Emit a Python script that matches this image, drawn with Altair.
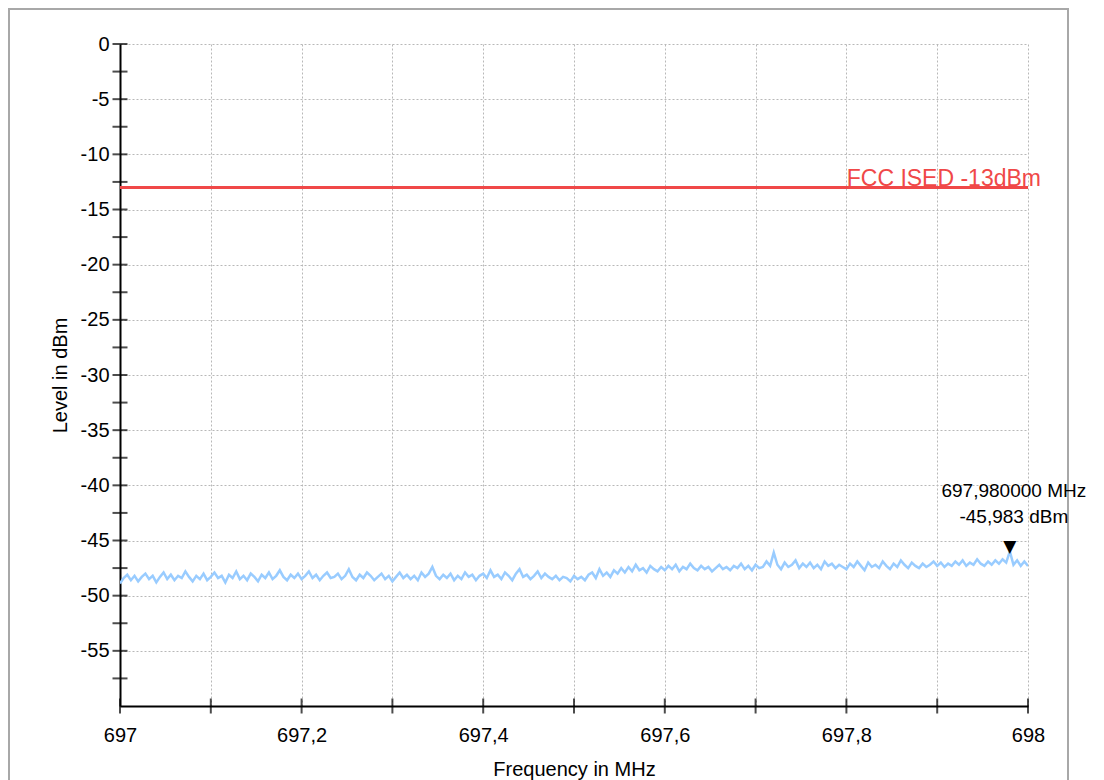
import altair as alt
import pandas as pd

# ---- data -------------------------------------------------------------
F_START = 697.0
F_STEP = 0.004
LEVELS = [
    -48.9, -48.4, -48.1, -48.6, -48.2, -48.7, -48.3, -48.0, -48.5, -48.2,
    -48.8, -48.3, -47.9, -48.5, -48.1, -48.6, -48.2, -48.4, -47.8, -48.3,
    -48.7, -48.2, -48.5, -48.0, -48.6, -48.3, -47.9, -48.4, -48.2, -48.8,
    -48.1, -48.4, -47.8, -48.5, -48.2, -48.6, -48.0, -48.3, -48.7, -48.1,
    -48.4, -47.9, -48.5, -48.2, -47.7, -48.3, -48.6, -48.1, -48.4, -48.0,
    -48.5, -48.2, -47.8, -48.4, -48.1, -48.6, -48.2, -47.9, -48.4, -48.3,
    -48.0, -48.5, -48.2, -47.6, -48.3, -48.6, -48.1, -48.4, -47.9, -48.2,
    -48.6, -48.3, -48.0, -48.5, -48.2, -48.7, -48.3, -47.9, -48.4, -48.1,
    -48.5, -48.2, -48.6, -47.9, -48.3, -48.0, -47.4, -48.2, -48.5, -48.1,
    -48.4, -48.0, -48.6, -48.2, -48.5, -47.9, -48.3, -48.1, -48.6, -48.2,
    -48.0, -48.4, -47.7, -48.3, -48.1, -48.5, -47.9, -48.2, -48.6, -48.0,
    -47.6, -48.3, -48.1, -48.5, -48.2, -47.8, -48.4, -48.0, -48.3, -48.5,
    -48.2, -48.6, -48.3, -48.4, -48.7, -48.2, -48.5, -48.3, -48.6, -48.1,
    -47.9, -48.4, -47.6, -48.2, -47.9, -48.3, -47.7, -48.0, -47.5, -47.9,
    -47.4, -47.8, -47.2, -47.7, -47.5, -47.9, -47.3, -47.6, -47.8, -47.4,
    -47.7, -47.3, -47.6, -47.2, -47.8, -47.4, -47.6, -47.1, -47.5, -47.7,
    -47.3, -47.6, -47.4, -47.8, -47.5, -47.2, -47.6, -47.4, -47.7, -47.3,
    -47.5, -47.1, -47.6, -47.3, -47.7, -47.2, -47.5, -47.4, -46.9, -47.3,
    -46.1, -47.2, -47.6, -47.0, -47.4, -47.2, -46.8, -47.5, -47.1, -47.4,
    -47.0, -47.5, -47.2, -47.6, -46.9, -47.3, -47.1, -47.5, -47.2, -47.4,
    -47.6, -47.1, -47.4, -46.9, -47.3, -47.7, -47.0, -47.4, -47.2, -47.5,
    -46.9, -47.3, -47.6, -47.1, -47.4, -46.8, -47.2, -47.5, -47.0, -47.3,
    -47.5, -47.1, -47.4, -47.2, -46.9, -47.3, -47.0, -47.4, -47.1, -47.3,
    -46.9, -47.2, -46.8, -47.3, -47.0, -47.2, -46.7, -47.1, -47.3, -46.9,
    -47.2, -46.8, -47.1, -46.7, -47.0, -45.983, -47.2, -46.8, -47.3, -46.9,
    -47.3,
]
FREQS = [round(F_START + i * F_STEP, 3) for i in range(len(LEVELS))]

LIMIT_DB = -13
LIMIT_LABEL = "FCC ISED -13dBm"
MARKER_F = 697.98
MARKER_DB = -45.983

Y_VALUES = [-2.5 * k for k in range(0, 25)]          # 0 .. -60
Y_TICKS = Y_VALUES[:-1]                                # 0 .. -57.5
X_TICKS = [round(697 + 0.1 * k, 1) for k in range(0, 11)]

FONT = "Liberation Sans"
RED = "#f04848"
BLUE = "#99ccff"

trace = pd.DataFrame({"f": FREQS, "db": LEVELS})
limit = pd.DataFrame({"f": [697.0], "f2": [698.0], "db": [LIMIT_DB], "label": [LIMIT_LABEL]})
marker = pd.DataFrame({
    "f": [MARKER_F], "db": [MARKER_DB],
    "l1": [f"{MARKER_F:.6f}".replace(".", ",") + " MHz"],
    "l2": [f"{MARKER_DB:.3f}".replace(".", ",") + " dBm"],
})
yt = pd.DataFrame({"f": [697.0] * len(Y_TICKS), "db": Y_TICKS})
xt = pd.DataFrame({"f": X_TICKS, "db": [-60.0] * len(X_TICKS)})

xscale = alt.Scale(domain=[697, 698], nice=False, zero=False)
yscale = alt.Scale(domain=[-60, 0], nice=False, zero=False)

xaxis = alt.Axis(
    title="Frequency in MHz", values=X_TICKS, ticks=False, labelFlush=False,
    labelExpr="round(datum.value*10) % 2 == 0 ? replace(toString(round(datum.value*10)/10), '.', ',') : ''",
    labelPadding=19, titlePadding=14,
)
yaxis = alt.Axis(
    title="Level in dBm", values=Y_VALUES, ticks=False,
    labelExpr="(datum.value % 5 == 0 && datum.value > -59) ? toString(datum.value) : ''",
    labelPadding=11, titlePadding=10,
)

base = alt.Chart(trace)

line = base.mark_line(color=BLUE, strokeWidth=2.5, clip=True).encode(
    x=alt.X("f:Q", scale=xscale, axis=xaxis),
    y=alt.Y("db:Q", scale=yscale, axis=yaxis),
)

limit_rule = alt.Chart(limit).mark_rule(color=RED, strokeWidth=3).encode(
    x="f:Q", x2="f2:Q", y="db:Q"
)
limit_text = alt.Chart(limit).mark_text(
    color=RED, font=FONT, fontSize=23, align="right", baseline="alphabetic", dx=13, dy=-1
).encode(x="f2:Q", y="db:Q", text="label:N")

tri = alt.Chart(marker).mark_text(
    text="▼", font="DejaVu Sans", fontSize=17, color="black", baseline="alphabetic", dy=1
).encode(x="f:Q", y="db:Q")
m1 = alt.Chart(marker).mark_text(
    font=FONT, fontSize=19, color="black", align="center", baseline="middle", dx=4, dy=-60
).encode(x="f:Q", y="db:Q", text="l1:N")
m2 = alt.Chart(marker).mark_text(
    font=FONT, fontSize=19, color="black", align="center", baseline="middle", dx=4, dy=-34
).encode(x="f:Q", y="db:Q", text="l2:N")

ytick_marks = alt.Chart(yt).mark_tick(
    orient="horizontal", size=15, thickness=2, color="black"
).encode(x="f:Q", y="db:Q")
xtick_marks = alt.Chart(xt).mark_tick(
    orient="vertical", size=15, thickness=2, color="black"
).encode(x="f:Q", y="db:Q")

frame = alt.Chart(limit).mark_rect(
    filled=False, stroke="#a8a8a8", strokeWidth=2
).encode(
    x=alt.value(-111), x2=alt.value(948), y=alt.value(-35), y2=alt.value(760)
)

chart = alt.layer(
    frame, line, limit_rule, limit_text, ytick_marks, xtick_marks, tri, m1, m2
).properties(
    width=908, height=662,
    autosize=alt.AutoSizeParams(type="none"),
    padding={"left": 112, "top": 36, "right": 68, "bottom": 74},
).configure_view(
    stroke=None
).configure_axis(
    domainColor="black", domainWidth=2,
    gridColor="#b8b8b8", gridDash=[2, 2], gridWidth=1,
    labelFont=FONT, labelFontSize=20, labelColor="black",
    titleFont=FONT, titleFontSize=20, titleFontWeight="normal", titleColor="black",
    labelOverlap=False,
)

chart.save("out.html", embed_options={"renderer": "svg", "actions": False})
